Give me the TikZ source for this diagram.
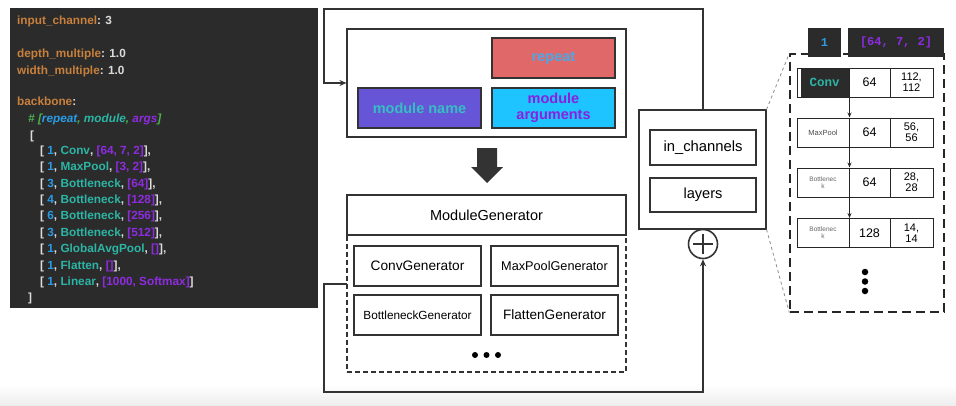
\documentclass[tikz,border=0pt]{standalone}
\usepackage{fontspec}
\setmainfont{Liberation Sans}
\setmonofont{Liberation Mono}
\usetikzlibrary{arrows.meta}
\definecolor{codebg}{HTML}{2B2B2B}
\definecolor{keyor}{HTML}{C8803C}
\definecolor{valw}{HTML}{DCDCDC}
\definecolor{numblue}{HTML}{2A9CE6}
\definecolor{modteal}{HTML}{2BB5A5}
\definecolor{argpurp}{HTML}{8E2BE0}
\definecolor{cmtgreen}{HTML}{4CAF50}
\definecolor{frameline}{HTML}{333333}
\definecolor{repred}{HTML}{E06868}
\definecolor{modpurp}{HTML}{6655D6}
\definecolor{argcyan}{HTML}{1EC4FF}
\definecolor{reptext}{HTML}{4AA8E8}
\definecolor{modtext}{HTML}{35BFC4}
\definecolor{argtext}{HTML}{8A1FE0}
\newcommand\ck[1]{\textcolor{keyor}{#1}}
\newcommand\cn[1]{\textcolor{numblue}{#1}}
\newcommand\cm[1]{\textcolor{modteal}{#1}}
\newcommand\ca[1]{\textcolor{argpurp}{#1}}
\newcommand\cg[1]{\textcolor{cmtgreen}{#1}}
\begin{document}
\begin{tikzpicture}[x=1pt,y=-1pt,
  codeline/.style={anchor=base west, inner sep=0, font=\fontsize{11.8}{14}\selectfont\bfseries, text=valw},
  frame/.style={draw=frameline, line width=2pt},
  gbox/.style={draw=black!80, line width=1.1pt, inner sep=0, align=center, fill=white},
  cbox/.style={draw=frameline, line width=1.3pt, inner sep=0, align=center, minimum width=123pt, minimum height=40pt, font=\fontsize{14.5}{15}\selectfont\bfseries},
  genbox/.style={gbox, minimum width=127pt, minimum height=40pt},
  cell/.style={draw=black!85, line width=1pt, inner sep=0, align=center, minimum height=29pt, fill=white},
  darkbox/.style={fill=codebg, inner sep=0, minimum height=29pt, font=\ttfamily\bfseries\fontsize{12}{14}\selectfont},
  rowarrow/.style={draw=black!85, line width=0.9pt, -{Stealth[length=5pt,width=4pt]}},
  dotmark/.style={circle, fill=black, inner sep=0, minimum size=6.5pt}
]
\useasboundingbox (0,0) rectangle (956,405);
\shade[top color=white, bottom color=black!7] (0,385) rectangle (956,405);

% code panel
\node[fill=codebg, minimum width=308pt, minimum height=300pt, anchor=north west, inner sep=0] (code) at (10,8) {};
\node[codeline] (l1) at (17,24) {\ck{input\_channel}: 3};
\node[codeline] (l2) at (17,57) {\ck{depth\_multiple}: 1.0};
\node[codeline] (l3) at (17,74) {\ck{width\_multiple}: 1.0};
\node[codeline] (l4) at (17,105) {\ck{backbone}:};
\node[codeline] (l5) at (28,122) {\itshape\cg{\# [}\cn{repeat}\cg{,} \cm{module}\cg{,} \ca{args}\cg{]}};
\node[codeline] (l6) at (30,139) {[};
\node[codeline] (l7) at (40,154) {[ \cn{1}, \cm{Conv}, \ca{[64, 7, 2]}],};
\node[codeline] (l8) at (40,170) {[ \cn{1}, \cm{MaxPool}, \ca{[3, 2]}],};
\node[codeline] (l9) at (40,187) {[ \cn{3}, \cm{Bottleneck}, \ca{[64]}],};
\node[codeline] (l10) at (40,203) {[ \cn{4}, \cm{Bottleneck}, \ca{[128]}],};
\node[codeline] (l11) at (40,219) {[ \cn{6}, \cm{Bottleneck}, \ca{[256]}],};
\node[codeline] (l12) at (40,236) {[ \cn{3}, \cm{Bottleneck}, \ca{[512]}],};
\node[codeline] (l13) at (40,252) {[ \cn{1}, \cm{GlobalAvgPool}, \ca{[]}],};
\node[codeline] (l14) at (40,269) {[ \cn{1}, \cm{Flatten}, \ca{[]}],};
\node[codeline] (l15) at (40,285) {[ \cn{1}, \cm{Linear}, \ca{[1000, Softmax]}]};
\node[codeline] (l16) at (28,301) {]};

% top box
\node[gbox, minimum width=279pt, minimum height=108pt] (top) at (486.5,83) {};
\node[cbox, fill=repred, text=reptext] (rep) at (553.5,58) {repeat};
\node[cbox, fill=modpurp, text=modtext] (mname) at (419.5,108) {module name};
\node[cbox, fill=argcyan, text=argtext, font=\fontsize{14.5}{16}\selectfont\bfseries] (margs) at (553.5,108) {module\\arguments};

% block arrow
\fill[frameline] (477,148) -- (497,148) -- (497,167) -- (503,167) -- (487,183) -- (471,167) -- (477,167) -- cycle;

% generator
\node[draw=black!80, line width=1.1pt, dashed, dash pattern=on 5pt off 3pt, minimum width=279pt, minimum height=137pt, inner sep=0] (gdash) at (486.5,303.5) {};
\node[gbox, minimum width=279pt, minimum height=40pt, font=\fontsize{14.5}{16}\selectfont] (mg) at (486.5,215) {ModuleGenerator};
\node[genbox, font=\fontsize{13.7}{15}\selectfont] (conv) at (417.5,266) {ConvGenerator};
\node[genbox, font=\fontsize{12.7}{15}\selectfont] (maxp) at (554.5,266) {MaxPoolGenerator};
\node[genbox, font=\fontsize{11.8}{15}\selectfont] (bott) at (417.5,315) {BottleneckGenerator};
\node[genbox, font=\fontsize{13.6}{15}\selectfont] (flat) at (554.5,315) {FlattenGenerator};
\node[dotmark, minimum size=6pt] (gd1) at (475,355) {};
\node[dotmark, minimum size=6pt] (gd2) at (486.5,355) {};
\node[dotmark, minimum size=6pt] (gd3) at (498,355) {};

% in_channels / layers
\node[gbox, minimum width=127pt, minimum height=119pt] (inbox) at (702.5,169.5) {};
\node[gbox, minimum width=106pt, minimum height=35pt, font=\fontsize{14.8}{16}\selectfont] (inch) at (703,147.5) {in\_channels};
\node[gbox, minimum width=106pt, minimum height=34pt, font=\fontsize{14.6}{16}\selectfont] (layers) at (703,195) {layers};
\node[circle, draw=frameline, line width=1.6pt, minimum size=29pt, inner sep=0] (plus) at (703,244) {};
\draw[frameline, line width=2.6pt] (plus.center) ++(-10,0) -- ++(20,0);
\draw[frameline, line width=2.6pt] (plus.center) ++(0,-10) -- ++(0,20);

% frame connectors
\coordinate (tl) at (324,9);
\coordinate (dl) at (347,284);
\coordinate (bl) at (324,392);
\draw[frame, -{Stealth[length=7pt,width=6pt]}] (inbox.north) |- (tl) |- (top.west);
\draw[frame, -{Stealth[length=7pt,width=6pt]}] (dl) -| (bl) -| (plus.south);

% right detail
\node[draw=black!85, line width=1.3pt, dash pattern=on 9pt off 5pt, minimum width=154pt, minimum height=258pt, inner sep=0] (rdash) at (867,183) {};
\draw[black!45, line width=0.8pt, dashed] (inbox.north east) -- (rdash.north west);
\draw[black!45, line width=0.8pt, dashed] (inbox.south east) -- (rdash.south west);
\node[darkbox, minimum width=33pt, text=numblue] (rep1) at (824.5,42.5) {1};
\node[darkbox, minimum width=96pt, text=argpurp] (args1) at (896,42.5) {[64, 7, 2]};

% table rows
\node[cell, minimum width=52pt] (r1a) at (823,82.5) {};
\fill[codebg] (800.5,68.5) rectangle (848.5,96.5);
\node[inner sep=0, text=modteal, font=\ttfamily\bfseries\fontsize{12.5}{14}\selectfont] (r1at) at (824.5,82.5) {Conv};
\node[cell, minimum width=41pt, font=\fontsize{12.5}{13}\selectfont] (r1b) at (869.5,82.5) {64};
\node[cell, minimum width=43pt, font=\fontsize{11}{11}\selectfont] (r1c) at (911.5,82.5) {112,\\112};

\node[cell, minimum width=52pt, font=\fontsize{7.5}{8}\selectfont, text=black!70] (r2a) at (823,132.5) {MaxPool};
\node[cell, minimum width=41pt, font=\fontsize{12.5}{13}\selectfont] (r2b) at (869.5,132.5) {64};
\node[cell, minimum width=43pt, font=\fontsize{11}{11}\selectfont] (r2c) at (911.5,132.5) {56,\\56};

\node[cell, minimum width=52pt, font=\fontsize{6.5}{7}\selectfont, text=black!60] (r3a) at (823,182.5) {Bottlenec\\k};
\node[cell, minimum width=41pt, font=\fontsize{12.5}{13}\selectfont] (r3b) at (869.5,182.5) {64};
\node[cell, minimum width=43pt, font=\fontsize{11}{11}\selectfont] (r3c) at (911.5,182.5) {28,\\28};

\node[cell, minimum width=52pt, font=\fontsize{6.5}{7}\selectfont, text=black!60] (r4a) at (823,233) {Bottlenec\\k};
\node[cell, minimum width=41pt, font=\fontsize{12.5}{13}\selectfont] (r4b) at (869.5,233) {128};
\node[cell, minimum width=43pt, font=\fontsize{11}{11}\selectfont] (r4c) at (911.5,233) {14,\\14};

\draw[rowarrow] (r1a.south east) -- (r2a.north east);
\draw[rowarrow] (r2a.south east) -- (r3a.north east);
\draw[rowarrow] (r3a.south east) -- (r4a.north east);

\node[dotmark] (vd1) at (865,272) {};
\node[dotmark] (vd2) at (865,281.5) {};
\node[dotmark] (vd3) at (865,291) {};
\end{tikzpicture}
\end{document}
